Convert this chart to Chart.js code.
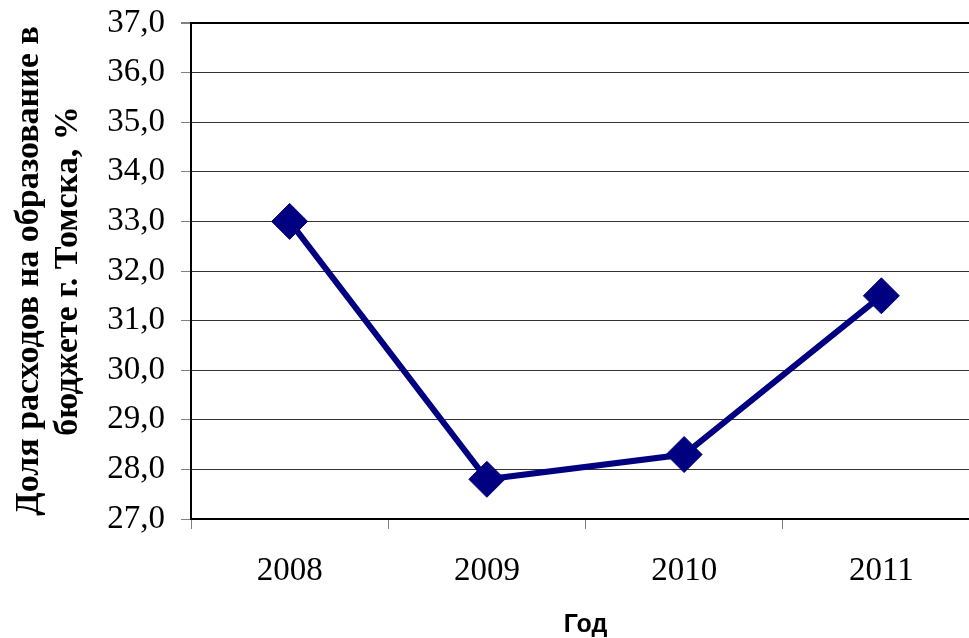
<!DOCTYPE html>
<html lang="ru">
  <head>
    <meta charset="UTF-8" />
    <title>Доля расходов на образование</title>
    <script src="https://cdn.jsdelivr.net/npm/chart.js"></script>
    <style>
      html, body { margin: 0; padding: 0; overflow: hidden; background: #fff; }
      canvas { display: block; }
    </style>
  </head>
  <body>
    <canvas id="chart" width="999" height="638"></canvas>
    <script>
      const years = ["2008", "2009", "2010", "2011"];
      const shares = [33.0, 27.8, 28.3, 31.5];
      const yMin = 27;
      const yMax = 37;
      const yTitle = ["Доля расходов на образование в", "бюджете г. Томска, %"];
      const xTitle = "Год";

      const serif = "'Liberation Serif', 'Times New Roman', serif";
      const sans = "'Liberation Sans', Arial, sans-serif";

      new Chart(document.getElementById("chart"), {
        type: "line",
        data: {
          labels: years,
          datasets: [{
            data: shares,
            borderColor: "#000080",
            borderWidth: 6,
            pointStyle: "rectRot",
            pointRadius: 18,
            pointBackgroundColor: "#000080",
            pointBorderColor: "#000080",
            pointBorderWidth: 1,
            tension: 0,
          }],
        },
        options: {
          responsive: false,
          animation: false,
          events: [],
          layout: { padding: { left: 0, right: 10, top: 23, bottom: 0 } },
          plugins: { legend: { display: false }, tooltip: { enabled: false } },
          scales: {
            x: {
              offset: true,
              afterFit: (s) => { s.height = 119; s.paddingLeft = 0; s.paddingRight = 0; },
              grid: {
                offset: true,
                drawOnChartArea: false,
                tickLength: 10,
                tickColor: "#808080",
              },
              border: { color: "#000", width: 2 },
              ticks: {
                color: "#000",
                padding: 23,
                font: { family: serif, size: 33 },
              },
              title: {
                display: true,
                text: xTitle,
                color: "#000",
                padding: { top: 0, bottom: 0 },
                font: { family: sans, size: 25, weight: "bold", lineHeight: 1 },
              },
            },
            y: {
              min: yMin,
              max: yMax,
              afterFit: (s) => { s.width = 191; s.paddingTop = 0; s.paddingBottom = 0; },
              grid: {
                color: (c) => (c.tick && c.tick.value === yMax ? "#000" : "#333"),
                lineWidth: (c) => (c.tick && c.tick.value === yMax ? 2 : 1),
                tickLength: 10,
                tickColor: "#808080",
              },
              border: { color: "#000", width: 2 },
              ticks: {
                stepSize: 1,
                color: "#000",
                padding: 16,
                font: { family: serif, size: 33 },
                callback: (v) => v.toFixed(1).replace(".", ","),
              },
              title: {
                display: true,
                text: yTitle,
                color: "#000",
                padding: { top: 10, bottom: 0 },
                font: { family: serif, size: 34, weight: "bold", lineHeight: 1.15 },
              },
            },
          },
        },
      });
    </script>
  </body>
</html>
